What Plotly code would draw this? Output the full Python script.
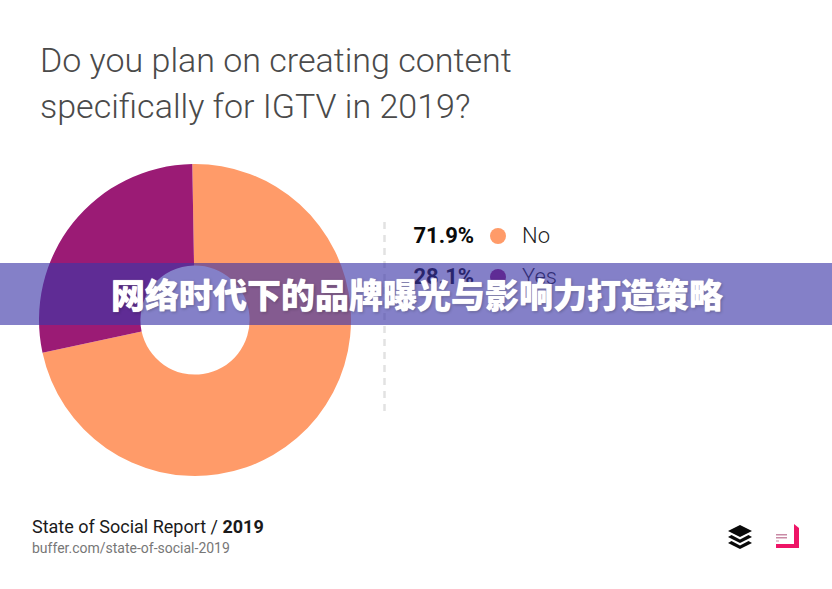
import plotly.graph_objects as go

W, H = 832, 589
categories = ["No", "Yes"]
values = [71.9, 28.1]
value_labels = ["71.9%", "28.1%"]
colors = ["#FF9B69", "#9B1B75"]
legend_y = [237, 278]
title_lines = ["Do you plan on creating content", "specifically for IGTV in 2019?"]
banner = "网络时代下的品牌曝光与影响力打造策略"
source_a = "State of Social Report / <b>2019</b>"
source_b = "buffer.com/state-of-social-2019"

fig = go.Figure()
fig.add_trace(go.Pie(
    labels=categories, values=values, sort=False, direction="clockwise",
    rotation=-1, hole=0.35, marker=dict(colors=colors, line=dict(width=0)),
    textinfo="none", hoverinfo="label+percent", showlegend=False,
    domain=dict(x=[39/W, 351/W], y=[1-476/H, 1-164/H]),
))
# legend drawn through scatter so that it stays beneath the banner
fig.add_trace(go.Scatter(x=[413.5]*2, y=legend_y, mode="text", text=[f"<b>{v}</b>" for v in value_labels],
    textposition="middle right", textfont=dict(family="Roboto", size=22, color="#0a0a0a"),
    showlegend=False, hoverinfo="skip", cliponaxis=False))
fig.add_trace(go.Scatter(x=[498]*2, y=[236, 277], mode="markers",
    marker=dict(size=16, color=colors), showlegend=False, hoverinfo="skip"))
fig.add_trace(go.Scatter(x=[522]*2, y=legend_y, mode="text", text=categories,
    textposition="middle right", textfont=dict(family="Roboto", size=22, color="#222222", weight=300),
    showlegend=False, hoverinfo="skip", cliponaxis=False))

def logo(path, color):
    return dict(type="path", path=path, xref="x", yref="y", fillcolor=color, line=dict(width=0), layer="below")

shapes = [
    dict(type="line", x0=384.5, x1=384.5, y0=222, y1=416, xref="x", yref="y",
         line=dict(color="#E2E2E2", width=2.5, dash="7px,6px"), layer="below"),
    logo("M740 525 L752 531 L740 537 L728 531 Z", "#0a0a0a"),
    logo("M731.5 535 L740 539.5 L748.5 535 L752 537 L740 543 L728 537 Z", "#0a0a0a"),
    logo("M731.5 541 L740 545.5 L748.5 541 L752 543 L740 549 L728 543 Z", "#0a0a0a"),
    logo("M794 524 L799 528 L799 548 L776 548 L776 544 L794 544 Z", "#EE1466"),
    logo("M776 534 L787 534 L787 535.5 L776 535.5 Z", "#C98AA5"),
    logo("M776 537 L787 537 L787 538.5 L776 538.5 Z", "#C98AA5"),
    logo("M776 540.5 L779 540.5 L779 541.5 L776 541.5 Z", "#C98AA5"),
    dict(type="rect", x0=0, x1=W, y0=263, y1=325, xref="x", yref="y",
         fillcolor="rgba(60,54,168,0.63)", line=dict(width=0), layer="above"),
]

def label(x, y, text, size, color, family="Roboto", weight=None, shadow=None, xanchor="left"):
    f = dict(family=family, size=size, color=color)
    if weight: f["weight"] = weight
    if shadow: f["shadow"] = shadow
    return dict(x=x, y=y, xref="x", yref="y", text=text, showarrow=False, xanchor=xanchor, yanchor="middle", font=f)

annotations = [
    label(38, 60, title_lines[0], 34, "#4a4a4a", weight=300),
    label(38, 106, title_lines[1], 34, "#4a4a4a", weight=300),
    label(30, 526, source_a, 18, "#1a1a1a"),
    label(30, 548, source_b, 14, "#777777"),
    label(417, 293, banner, 34, "#ffffff", family="Noto Sans CJK SC", weight=900,
          shadow="0 0 1px #fff, 1px 1px 3px rgba(0,0,0,0.3)", xanchor="center"),
]

fig.update_layout(
    width=W, height=H, margin=dict(l=0, r=0, t=0, b=0), autosize=False,
    paper_bgcolor="white", plot_bgcolor="rgba(0,0,0,0)",
    xaxis=dict(range=[0, W], visible=False, fixedrange=True, domain=[0, 1]),
    yaxis=dict(range=[H, 0], visible=False, fixedrange=True, domain=[0, 1]),
    shapes=shapes, annotations=annotations, showlegend=False,
)
fig.write_html("out.html", config=dict(displayModeBar=False),
               post_script="document.body.style.margin='0';document.documentElement.style.overflow='hidden';")
